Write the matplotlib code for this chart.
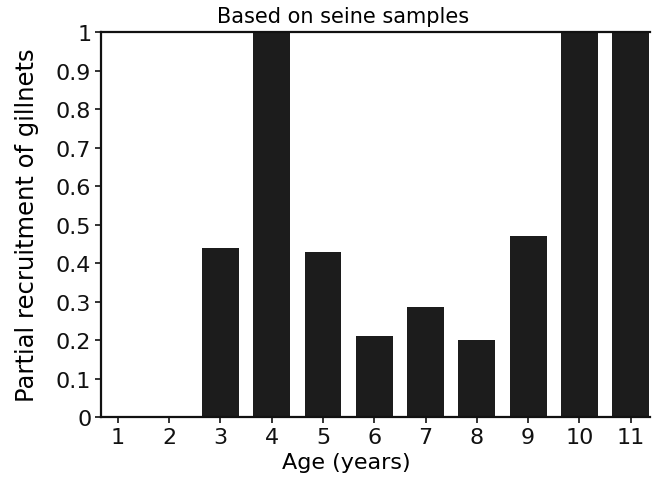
import matplotlib
matplotlib.use("Agg")
import matplotlib.pyplot as plt
from matplotlib.ticker import FixedLocator, FixedFormatter

ages = [1, 2, 3, 4, 5, 6, 7, 8, 9, 10, 11]
recruitment = [0.0, 0.0, 0.44, 1.0, 0.43, 0.21, 0.285, 0.20, 0.47, 1.0, 1.0]
yticks = [0, 0.1, 0.2, 0.3, 0.4, 0.5, 0.6, 0.7, 0.8, 0.9, 1]
ytick_labels = ["0", "0.1", "0.2", "0.3", "0.4", "0.5", "0.6", "0.7", "0.8", "0.9", "1"]

fig = plt.figure(figsize=(6.62, 4.81), dpi=100)
ax = fig.add_axes([0.1526, 0.131, 0.8294, 0.8])

ax.bar(ages, recruitment, width=0.72, color="#1c1c1c", edgecolor="none")

ax.set_xlim(0.67, 11.38)
ax.set_ylim(0, 1)
ax.set_xticks(ages)
ax.set_xticklabels([str(a) for a in ages])
ax.yaxis.set_major_locator(FixedLocator(yticks))
ax.yaxis.set_major_formatter(FixedFormatter(ytick_labels))

ax.spines["right"].set_visible(False)
for s in ["left", "top", "bottom"]:
    ax.spines[s].set_linewidth(1.6)
    ax.spines[s].set_color("#111111")

ax.tick_params(axis="both", direction="out", length=4, width=1.2, labelsize=16,
               colors="#111111", pad=3)
ax.set_title("Based on seine samples", fontsize=15, pad=7, x=0.44)
ax.set_xlabel("Age (years)", fontsize=16, labelpad=4, x=0.446)
ax.set_ylabel("Partial recruitment of gillnets", fontsize=17.5, labelpad=12)

fig.savefig("out.png", dpi=100)
